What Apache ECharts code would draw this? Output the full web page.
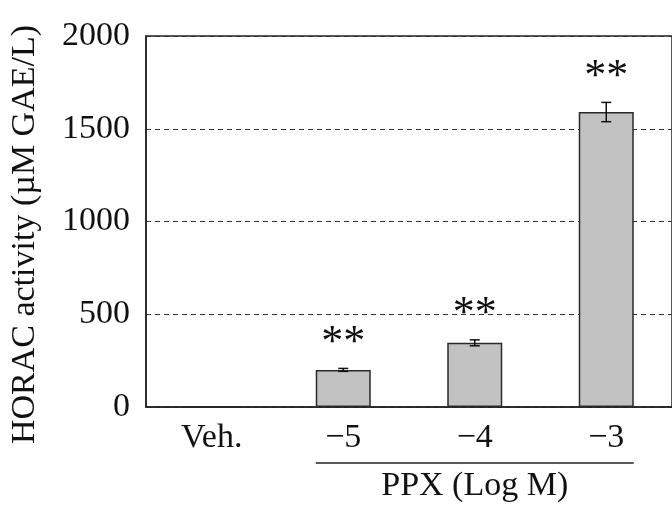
<!DOCTYPE html>
<html>
<head>
<meta charset="utf-8">
<style>
  html, body { margin: 0; padding: 0; background: #fff; }
  #chart { width: 672px; height: 509px; }
</style>
<script src="https://cdn.jsdelivr.net/npm/echarts@6/dist/echarts.min.js"></script>
</head>
<body>
<div id="chart"></div>
<script>
// HORAC activity by treatment
const categories = ['Veh.', '\u22125', '\u22124', '\u22123'];
const meanValues = [0, 200, 346, 1590];
const errValues = [0, 8, 16, 52];
const significance = ['', '**', '**', '**'];
const yTicks = [0, 500, 1000, 1500, 2000];
const groupLabel = 'PPX (Log M)';
const groupStart = '\u22125';
const groupEnd = '\u22123';

const FONT = '"Liberation Serif", "Times New Roman", serif';
const INK = '#111';
const BAR_W = 55;

const chart = echarts.init(document.getElementById('chart'), null, { renderer: 'canvas' });

const errData = categories.map((c, i) => [i, meanValues[i], errValues[i]]);

chart.setOption({
  animation: false,
  grid: {
    left: 144, top: 36, right: -10, bottom: 102,
    show: true, borderColor: '#222', borderWidth: 1.5, backgroundColor: 'transparent'
  },
  xAxis: {
    type: 'category',
    data: categories,
    axisLine: { lineStyle: { color: '#222', width: 1.5 } },
    axisTick: { show: false },
    axisLabel: { fontFamily: FONT, fontSize: 34, color: INK, margin: 14 }
  },
  yAxis: {
    type: 'value',
    min: yTicks[0],
    max: yTicks[yTicks.length - 1],
    interval: 500,
    name: 'HORAC activity (\u00b5M GAE/L)',
    nameLocation: 'middle',
    nameGap: 104,
    nameTextStyle: { fontFamily: FONT, fontSize: 34, color: INK, padding: [0, 26, 0, 0] },
    axisLine: { show: true, lineStyle: { color: '#222', width: 1.5 } },
    axisTick: { show: false },
    axisLabel: {
      fontFamily: FONT, fontSize: 34, color: INK, margin: 16,
      formatter: function (v) { return String(v); }
    },
    splitLine: { show: true, lineStyle: { color: '#333', type: [5, 4], width: 1.2 } }
  },
  series: [
    {
      type: 'bar',
      data: meanValues,
      barWidth: BAR_W,
      itemStyle: { color: '#c2c2c2', borderColor: '#2a2a2a', borderWidth: 1.5 },
      z: 2
    },
    {
      type: 'custom',
      data: errData,
      z: 3,
      renderItem: function (params, api) {
        const idx = api.value(0);
        const mean = api.value(1);
        const err = api.value(2);
        const mark = significance[idx];
        const children = [];
        const top = api.coord([idx, mean + err]);
        const bottom = api.coord([idx, mean - err]);
        const half = 5;
        const style = { stroke: '#111', lineWidth: 1.5 };
        if (err > 0) {
          children.push({ type: 'line', shape: { x1: top[0], y1: top[1], x2: bottom[0], y2: bottom[1] }, style: style });
          children.push({ type: 'line', shape: { x1: top[0] - half, y1: top[1], x2: top[0] + half, y2: top[1] }, style: style });
          children.push({ type: 'line', shape: { x1: bottom[0] - half, y1: bottom[1], x2: bottom[0] + half, y2: bottom[1] }, style: style });
        }
        if (mark) {
          children.push({
            type: 'text',
            style: {
              text: mark, x: top[0], y: top[1] - 3,
              align: 'center', verticalAlign: 'bottom',
              font: '44px ' + FONT, fill: INK
            }
          });
        }
        return { type: 'group', children: children };
      }
    }
  ]
});

// Bracket under the PPX concentrations with its label
function drawGroup() {
  const x0 = chart.convertToPixel({ xAxisIndex: 0 }, groupStart) - BAR_W / 2;
  const x1 = chart.convertToPixel({ xAxisIndex: 0 }, groupEnd) + BAR_W / 2;
  const yAxisBase = chart.convertToPixel({ yAxisIndex: 0 }, 0);
  const lineY = yAxisBase + 56;
  chart.setOption({
    graphic: [
      { type: 'line', shape: { x1: x0, y1: lineY, x2: x1, y2: lineY }, style: { stroke: '#222', lineWidth: 1.5 } },
      {
        type: 'text', x: (x0 + x1) / 2, y: lineY + 23,
        style: { text: groupLabel, font: '34px ' + FONT, fill: INK, align: 'center', verticalAlign: 'middle' }
      }
    ]
  });
}
drawGroup();
</script>
</body>
</html>
